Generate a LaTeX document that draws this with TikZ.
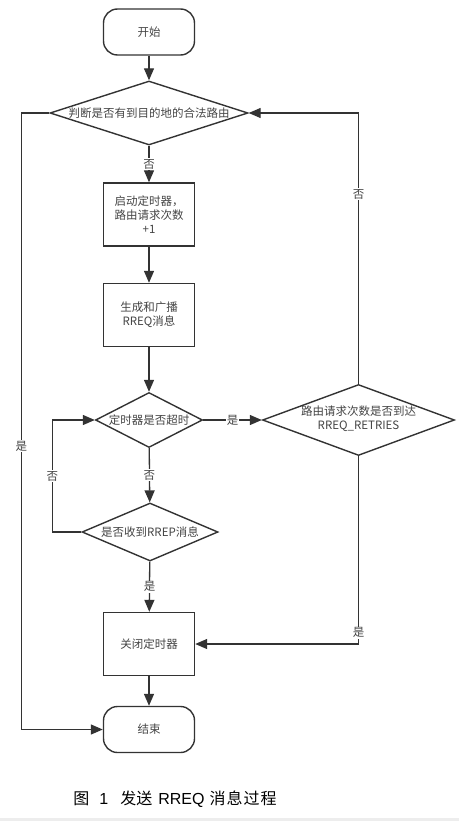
\documentclass[tikz,border=0pt]{standalone}
\usepackage{fontspec}
\setmainfont{Noto Sans CJK SC}
\newfontfamily\latinfont{Liberation Sans}
\usetikzlibrary{arrows.meta, shapes.geometric, calc}

\definecolor{linec}{HTML}{333333}
\definecolor{textc}{HTML}{444444}

\tikzset{
    every node/.style={font=\fontsize{11.5}{14}\selectfont, text=textc},
    terminal/.style={draw=linec, line width=1.4pt, rounded corners=14pt, minimum width=91pt, minimum height=46pt},
    process/.style={draw=linec, line width=1.4pt, minimum width=91pt, minimum height=63pt, align=center},
    decision/.style={diamond, draw=linec, line width=1.4pt, inner sep=0pt, aspect=1},
    arr/.style={draw=linec, line width=1.3pt, -{Triangle[length=12pt,width=10pt]}},
    lbl/.style={fill=white, inner sep=1pt}
}

\begin{document}
\begin{tikzpicture}[x=1pt, y=-1pt]
    \useasboundingbox (0, 0) rectangle (459, 821);
    \fill[black!7] (0, 818) rectangle (459, 821);

    \node[terminal] (start) at (149, 32) {开始};
    \node[decision, minimum width=198pt, minimum height=64pt] (judge) at (149, 113) {\makebox[0pt]{判断是否有到目的地的合法路由}};
    \node[process] (timer) at (149, 214.5) {启动定时器，\\路由请求次数\\+1};
    \node[process] (bcast) at (149, 315) {生成和广播\\RREQ消息};
    \node[decision, minimum width=107pt, minimum height=55pt] (timeout) at (149, 420) {\makebox[0pt]{定时器是否超时}};
    \node[decision, minimum width=192pt, minimum height=71pt] (retries) at (358.5, 420) {\makebox[0pt]{\begin{tabular}{@{}c@{}}路由请求次数是否到达\\RREQ\_RETRIES\end{tabular}}};
    \node[decision, minimum width=136pt, minimum height=58pt] (rrep) at (150, 532) {\makebox[0pt]{是否收到RREP消息}};
    \node[process] (close) at (149, 644) {关闭定时器};
    \node[terminal] (finish) at (149, 729.5) {结束};

    \node[text=black, font=\fontsize{16}{19}\selectfont] (caption) at (175, 799) {图\hspace{10pt}{\latinfont 1}\hspace{12pt}发送\hspace{6pt}{\latinfont RREQ}\hspace{5pt}消\hspace{1pt}息\hspace{1pt}过\hspace{1pt}程};

    \draw[arr] (start) -- (judge);
    \draw[arr] (judge) -- node[lbl]{否} (timer);
    \draw[arr] (timer) -- (bcast);
    \draw[arr] (bcast) -- (timeout);
    \draw[arr] (timeout) -- node[lbl]{是} (retries);
    \draw[arr] (timeout) -- node[lbl]{否} (rrep);
    \draw[arr] (rrep.west) -- ++(-29, 0) |- node[lbl, pos=0.25]{否} (timeout.west);
    \draw[arr] (rrep) -- node[lbl]{是} (close);
    \draw[arr] (retries.south) |- node[lbl, pos=0.47]{是} (close.east);
    \draw[arr] (retries.north) |- node[lbl, pos=0.35]{否} (judge.east);
    \draw[arr] (judge.west) -- ++(-28, 0) |- node[lbl, pos=0.27]{是} (finish.west);
    \draw[arr] (close) -- (finish);
\end{tikzpicture}
\end{document}
